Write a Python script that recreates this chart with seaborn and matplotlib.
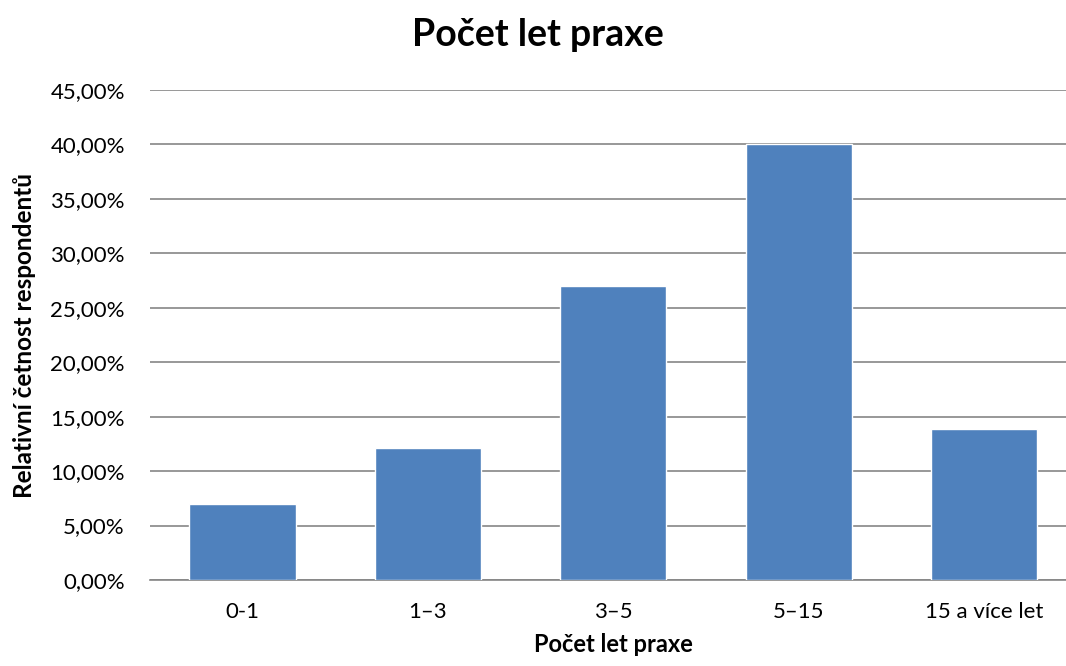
import pandas as pd
import numpy as np
import seaborn as sns
import matplotlib.pyplot as plt
from matplotlib.ticker import FuncFormatter, MultipleLocator

# data
kategorie = ['0-1', '1–3', '3–5', '5–15', '15 a více let']
cetnost = [6.96, 12.17, 27.0, 40.0, 13.85]  # v procentech

sns.set_style("white")
plt.rcParams['font.family'] = ['Lato', 'DejaVu Sans']
plt.rcParams['text.color'] = 'black'
plt.rcParams['axes.labelcolor'] = 'black'

df = pd.DataFrame({'kat': kategorie, 'cet': cetnost})

fig = plt.figure(figsize=(10.66, 6.66), dpi=100)
# plot area runs slightly past the right edge (as in the original crop)
ax = fig.add_axes([0.1405, 0.1291, 0.8698, 0.7357])

sns.barplot(data=df, x='kat', y='cet', color='#4F81BD', saturation=1,
            width=0.572, ax=ax, zorder=3)

ax.set_ylim(0, 45)
ax.yaxis.set_major_locator(MultipleLocator(5))
ax.yaxis.set_major_formatter(FuncFormatter(lambda v, p: f'{v:.2f}%'.replace('.', ',')))
ax.grid(axis='y', color='#868686', linewidth=1.2, zorder=0)
ax.set_axisbelow(True)

for s in ['top', 'right', 'left']:
    ax.spines[s].set_visible(False)
ax.spines['bottom'].set_color('#868686')
ax.spines['bottom'].set_linewidth(1.2)
ax.tick_params(axis='both', length=0, labelsize=16, colors='black')
ax.tick_params(axis='y', pad=18)
ax.tick_params(axis='x', pad=16)

# title centred on the visible chart, not on the wider plot area
ax.set_title('Počet let praxe', fontsize=27, fontweight='bold', pad=32, x=0.419)
ax.set_xlabel('Počet let praxe', fontsize=17, fontweight='bold', labelpad=8)
ax.set_ylabel('Relativní četnost respondentů', fontsize=17.5, fontweight='bold', labelpad=10)

plt.savefig('out.png', dpi=100)
